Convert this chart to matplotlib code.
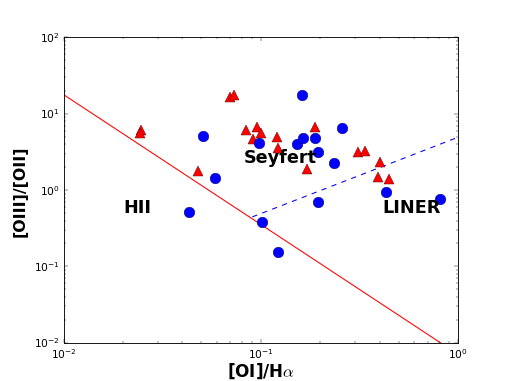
import matplotlib
matplotlib.use('Agg')

import matplotlib.pyplot as plt

plt.style.use('classic')

# Seyfert 点 (红色三角)
sy_x = [0.0246, 0.0244, 0.0700, 0.0735, 0.048, 0.0837, 0.0956, 0.0916, 0.1007,
        0.1205, 0.122, 0.1714, 0.1876, 0.312, 0.3377, 0.401, 0.3935, 0.444]
sy_y = [6.2, 5.6, 16.5, 17.5, 1.8, 6.2, 6.7, 4.7, 5.57,
        5.03, 3.6, 1.89, 6.75, 3.19, 3.29, 2.31, 1.48, 1.40]

# 其他点 (蓝色圆)
ot_x = [0.0509, 0.0584, 0.043, 0.0979, 0.1018, 0.122, 0.1623, 0.1518,
        0.163, 0.1876, 0.194, 0.194, 0.2335, 0.2567, 0.4305, 0.806]
ot_y = [5.08, 1.45, 0.514, 4.11, 0.387, 0.156, 17.8, 4.03,
        4.88, 4.88, 3.19, 0.695, 2.24, 6.54, 0.94, 0.776]

# 分界线
hii_x = [0.01, 0.815]
hii_y = [17.8, 0.01]
liner_x = [0.0905, 1.0]
liner_y = [0.446, 4.93]

labels = ['HII', 'Seyfert', 'LINER']
label_x = [0.0237, 0.125, 0.578]
label_y = [0.60, 2.69, 0.59]

fig = plt.figure(figsize=(8, 6), dpi=63.625)
ax = fig.add_subplot(111)
ax.plot(hii_x, hii_y, 'r-', lw=1.2)
ax.plot(liner_x, liner_y, 'b--', lw=1.2)
ax.plot(sy_x, sy_y, 'r^', ms=12, mec='#550000', mew=0.5)
ax.plot(ot_x, ot_y, 'bo', ms=12, mec='#000055', mew=0.5)
for t, lx, ly in zip(labels, label_x, label_y):
    ax.text(lx, ly, t, fontsize=20, fontweight='bold', ha='center', va='center')
ax.set_xscale('log')
ax.set_yscale('log')
ax.set_xlim(0.01, 1)
ax.set_ylim(0.01, 100)
ax.set_xlabel(r'[OI]/H$\alpha$', fontsize=19, fontweight='bold', labelpad=1)
ax.set_ylabel('[OIII]/[OII]', fontsize=18, fontweight='bold', labelpad=8)
fig.savefig('out.png', dpi=63.625)
